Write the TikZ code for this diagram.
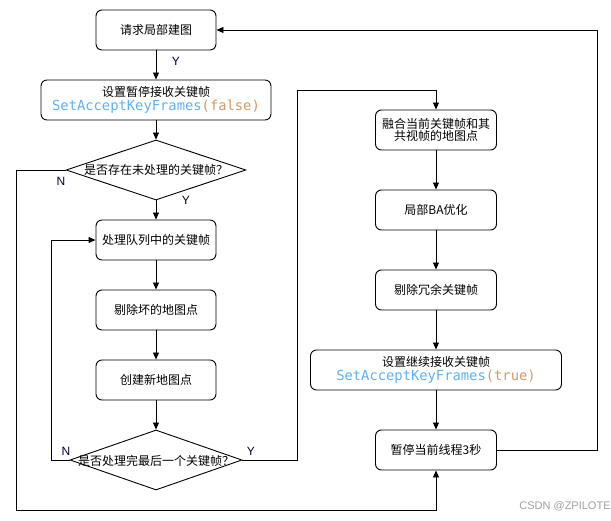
\documentclass[tikz,border=0pt]{standalone}
\usepackage{fontspec}
\setmainfont{Noto Sans CJK SC}
\newfontfamily\cjk{Noto Sans CJK SC}
\newfontfamily\codefont{DejaVu Sans Mono}
\newfontfamily\lab{Liberation Sans}
\usetikzlibrary{shapes.geometric,arrows.meta}
\definecolor{codeblue}{HTML}{61AFEF}
\definecolor{codeorange}{HTML}{D19A66}
\definecolor{wm}{HTML}{A0A0A0}
\tikzset{
  box/.style={draw, rounded corners=6pt, line width=0.9pt, minimum height=40pt, inner sep=0pt, align=center, font=\cjk\fontsize{12}{15}\selectfont},
  dia/.style={draw, diamond, line width=0.9pt, inner sep=0pt, align=center, font=\cjk\fontsize{12}{15}\selectfont},
  arr/.style={line width=0.9pt, -{Triangle[length=7pt,width=6pt]}},
  ln/.style={line width=0.9pt},
  yn/.style={font=\lab\fontsize{12}{14}\selectfont, text=black!80!blue},
}
\begin{document}
\begin{tikzpicture}[x=1pt,y=-1pt]
\useasboundingbox (0,0) rectangle (611,521);
\node[box, minimum width=120pt] (A) at (156,30) {请求局部建图};
\node[box, minimum width=230pt] (B) at (156,100) {设置暂停接收关键帧\\[-1pt]{\codefont\fontsize{13.8}{15}\selectfont\color{codeblue}SetAcceptKeyFrames\color{codeorange}(false)}};
\node[dia, minimum width=180pt, minimum height=60pt] (D1) at (156,170) {};
\node[font=\cjk\fontsize{12}{15}\selectfont] at (156,170) {是否存在未处理的关键帧？};
\node[box, minimum width=120pt] (C) at (156,240) {处理队列中的关键帧};
\node[box, minimum width=120pt] (E) at (156,310) {剔除坏的地图点};
\node[box, minimum width=120pt] (F) at (156,380) {创建新地图点};
\node[dia, minimum width=172pt, minimum height=60pt] (D2) at (156,460) {};
\node[font=\cjk\fontsize{12}{15}\selectfont] at (156,461) {是否处理完最后一个关键帧？};

\node[box, minimum width=121pt] (G) at (436,130) {融合当前关键帧和其\\[-3pt]共视帧的地图点};
\node[box, minimum width=121pt] (H) at (436,210) {局部BA优化};
\node[box, minimum width=121pt] (I) at (436,290) {剔除冗余关键帧};
\node[box, minimum width=251pt] (J) at (436,370) {设置继续接收关键帧\\[-1pt]{\codefont\fontsize{13.8}{15}\selectfont\color{codeblue}SetAcceptKeyFrames\color{codeorange}(true)}};
\node[box, minimum width=121pt] (K) at (436,450) {暂停当前线程3秒};

\coordinate (p1) at (16,170);
\coordinate (p2) at (16,510);
\coordinate (p3) at (436,510);
\coordinate (q1) at (51,460);
\coordinate (q2) at (51,240);
\coordinate (r1) at (297,460);
\coordinate (r2) at (297,90);
\coordinate (r3) at (436,90);
\coordinate (s1) at (597,450);
\coordinate (s2) at (597,30);

\draw[arr] (A) -- (B);
\draw[arr] (B) -- (D1);
\draw[arr] (D1) -- (C);
\draw[arr] (C) -- (E);
\draw[arr] (E) -- (F);
\draw[arr] (F) -- (D2);
\draw[arr] (D2.west) -- (q1) -- (q2) -- (C.west);
\draw[arr] (D2.east) -- (r1) -- (r2) -- (r3) -- (G.north);
\draw[arr] (G) -- (H);
\draw[arr] (H) -- (I);
\draw[arr] (I) -- (J);
\draw[arr] (J) -- (K);
\draw[arr] (K.east) -- (s1) -- (s2) -- (A.east);
\draw[arr] (D1.west) -- (p1) -- (p2) -- (p3) -- (K.south);

\node[yn] (y1) at (176,61) {Y};
\node[yn] (n1) at (61,181) {N};
\node[yn] (y2) at (186,200) {Y};
\node[yn] (n2) at (66,451) {N};
\node[yn] (y3) at (251,451) {Y};
\node[font=\lab\fontsize{11}{13}\selectfont, text=wm] (wmk) at (565,506) {CSDN @ZPILOTE};
\end{tikzpicture}
\end{document}
